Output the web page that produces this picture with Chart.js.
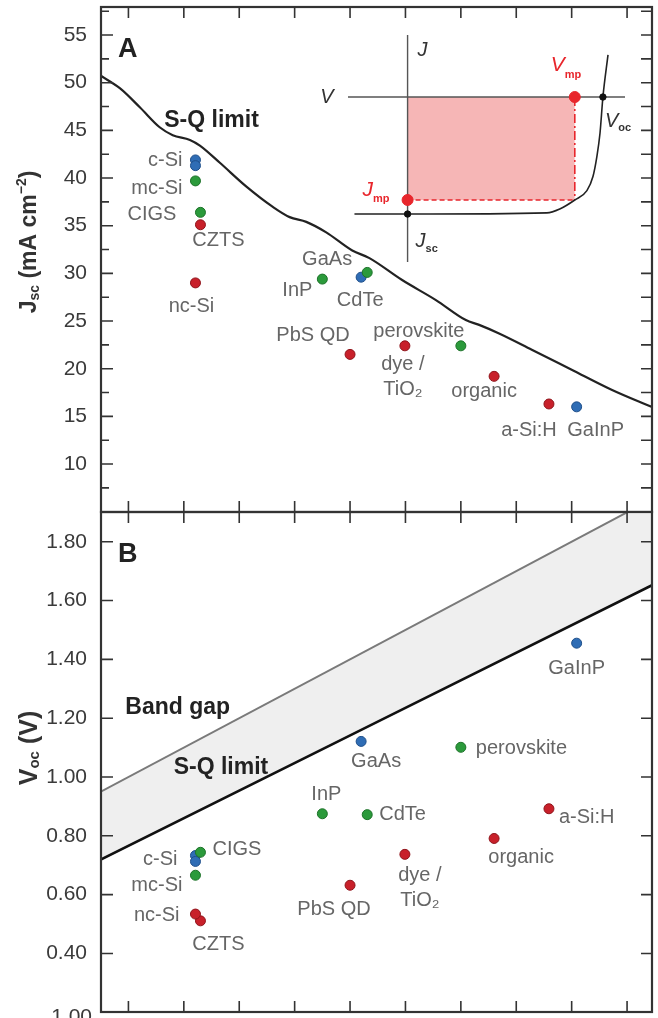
<!DOCTYPE html>
<html>
<head>
<meta charset="utf-8">
<script src="https://cdn.jsdelivr.net/npm/chart.js@4.4.1/dist/chart.umd.min.js"></script>
<style>
  html, body { margin: 0; padding: 0; background: #fff; }
  #wrap { position: relative; width: 658px; height: 1018px; overflow: hidden; }
  canvas { position: absolute; }
</style>
</head>
<body>
<div id="wrap">
  <canvas id="panelA" width="658" height="520" style="left:0;top:0"></canvas>
  <canvas id="panelB" width="658" height="513" style="left:0;top:505px"></canvas>
  <canvas id="inset" width="358" height="290" style="left:300px;top:0"></canvas>
</div>
<script>
// cells (record efficiencies), band gap in eV
const names   = ['c-Si', 'c-Si', 'mc-Si', 'CIGS', 'CZTS', 'nc-Si', 'InP', 'GaAs', 'CdTe', 'PbS QD', 'dye /\nTiO₂', 'perovskite', 'organic', 'a-Si:H', 'GaInP'];
const groups  = ['blue', 'blue', 'green', 'green', 'red', 'red', 'green', 'blue', 'green', 'red', 'red', 'green', 'red', 'red', 'blue'];
const bandGap = [1.121, 1.121, 1.121, 1.130, 1.130, 1.121, 1.350, 1.420, 1.431, 1.400, 1.499, 1.600, 1.660, 1.759, 1.809];
const jsc     = [41.9, 41.3, 39.7, 36.4, 35.1, 29.0, 29.4, 29.6, 30.1, 21.5, 22.4, 22.4, 19.2, 16.3, 16.0];
const voc     = [0.733, 0.713, 0.666, 0.744, 0.511, 0.534, 0.875, 1.121, 0.872, 0.632, 0.737, 1.101, 0.791, 0.892, 1.455];

// Shockley-Queisser limit curves
const sqEg  = [0.951, 0.985, 1.021, 1.057, 1.080, 1.111, 1.129, 1.165, 1.213, 1.260, 1.291, 1.321, 1.357, 1.404, 1.435, 1.494, 1.555, 1.609, 1.633, 1.669, 1.728, 1.800, 1.872, 1.944];
const sqJsc = [50.7, 49.4, 47.4, 45.3, 44.5, 44.0, 43.4, 41.6, 39.1, 37.0, 35.9, 35.4, 34.3, 32.4, 31.6, 29.3, 27.2, 25.1, 24.6, 23.7, 22.0, 19.9, 17.8, 16.0];
const sqVocEg = [0.951, 1.451, 1.945];
const sqVoc   = [0.720, 1.189, 1.652];
const gapEg  = [0.951, 1.945];
const gapVoc = [0.951, 1.945];

// ticks
const egTicks   = [1.0, 1.1, 1.2, 1.3, 1.4, 1.5, 1.6, 1.7, 1.8, 1.9];
const jscTicks  = [10, 15, 20, 25, 30, 35, 40, 45, 50, 55];
const jscMinor  = [7.5, 12.5, 17.5, 22.5, 27.5, 32.5, 37.5, 42.5, 47.5, 52.5, 57.5];
const vocTicks  = [0.4, 0.6, 0.8, 1.0, 1.2, 1.4, 1.6, 1.8];

// inset J-V sketch (normalised: Voc = 1, Jsc = -1)
const ivV = [-0.272, 0, 0.713, 0.779, 0.856, 0.918, 0.949, 0.969, 0.985, 1.0, 1.026];
const ivJ = [-1.0, -1.0, -0.99, -0.957, -0.88, -0.80, -0.68, -0.51, -0.31, 0, 0.36];
const vmp = 0.856, jmp = -0.88;

const FONT = "'Liberation Sans', Arial, sans-serif";
const dotFill = { blue: '#2f6db5', green: '#2b9a3b', red: '#c8202a' };
const dotEdge = { blue: '#1f4f8a', green: '#1d7229', red: '#8f141b' };

// label offsets from point (px): dx, dy, align
const labelPosA = {
  'c-Si': [-13, 1, 'right'], 'mc-Si': [-13, 8, 'right'], 'CIGS': [-24, 2, 'right'],
  'CZTS': [18, 16, 'center'], 'nc-Si': [-4, 24, 'center'], 'InP': [-10, 11, 'right'],
  'GaAs': [-34, -18, 'center'], 'CdTe': [-7, 28, 'center'], 'PbS QD': [-37, -19, 'center'],
  'perovskite': [-42, -14, 'center'], 'dye /\nTiO₂': [-2, 19, 'center'], 'organic': [-10, 15, 'center'],
  'a-Si:H': [-20, 27, 'center'], 'GaInP': [19, 24, 'center']
};
const labelPosB = {
  'GaInP': [0, 25, 'center'], 'GaAs': [15, 20, 'center'], 'perovskite': [15, 1, 'left'],
  'InP': [4, -19, 'center'], 'CdTe': [12, 0, 'left'], 'a-Si:H': [10, 9, 'left'],
  'organic': [27, 19, 'center'], 'dye /\nTiO₂': [15, 21, 'center'], 'PbS QD': [-16, 24, 'center'],
  'CIGS': [12, -3, 'left'], 'c-Si': [-18, 4, 'right'], 'mc-Si': [-13, 10, 'right'],
  'nc-Si': [-16, 1, 'right'], 'CZTS': [18, 24, 'center']
};

function drawRich(ctx, x, y, parts, align) {
  let w = 0;
  parts.forEach(p => { ctx.font = p.font; p.w = ctx.measureText(p.t).width; w += p.w; });
  let cx = align === 'center' ? x - w / 2 : align === 'right' ? x - w : x;
  ctx.textAlign = 'left';
  parts.forEach(p => {
    ctx.font = p.font;
    ctx.fillStyle = p.color || '#333';
    ctx.fillText(p.t, cx, y + (p.dy || 0));
    cx += p.w;
  });
}

// frame with inward ticks
const framePlugin = {
  id: 'frame',
  afterDatasetsDraw(chart, args, o) {
    const { ctx, chartArea: a, scales: { x, y } } = chart;
    ctx.save();
    ctx.strokeStyle = '#333';
    ctx.lineWidth = 1.6;
    ctx.beginPath();
    egTicks.forEach(v => {
      const px = x.getPixelForValue(v);
      ctx.moveTo(px, a.top); ctx.lineTo(px, a.top + 11);
      ctx.moveTo(px, a.bottom); ctx.lineTo(px, a.bottom - 11);
    });
    o.major.forEach(v => {
      const py = y.getPixelForValue(v);
      ctx.moveTo(a.left, py); ctx.lineTo(a.left + 12, py);
      ctx.moveTo(a.right, py); ctx.lineTo(a.right - 11, py);
    });
    (o.minor || []).forEach(v => {
      const py = y.getPixelForValue(v);
      if (py < a.top || py > a.bottom) return;
      ctx.moveTo(a.left, py); ctx.lineTo(a.left + 8, py);
      ctx.moveTo(a.right, py); ctx.lineTo(a.right - 11, py);
    });
    ctx.stroke();
    ctx.lineWidth = 2.2;
    ctx.strokeRect(a.left, a.top, a.right - a.left, a.bottom - a.top);
    ctx.restore();
  }
};

// point labels, notes and axis title
const textPlugin = {
  id: 'texts',
  afterDraw(chart, args, o) {
    const { ctx, chartArea: a, scales: { x, y } } = chart;
    const pts = chart.getDatasetMeta(0).data;
    ctx.save();
    ctx.textBaseline = 'middle';
    const done = {};
    names.forEach((n, i) => {
      if (done[n]) return;
      done[n] = true;
      const [dx, dy, al] = o.pos[n];
      ctx.font = '20px ' + FONT;
      ctx.fillStyle = '#666';
      ctx.textAlign = al;
      n.split('\n').forEach((line, k) => {
        ctx.fillText(line, pts[i].x + dx, pts[i].y + dy + k * 25);
      });
    });
    ctx.textBaseline = 'alphabetic';
    ctx.textAlign = 'left';
    o.notes.forEach(nt => {
      ctx.font = 'bold ' + nt.size + 'px ' + FONT;
      ctx.fillStyle = '#222';
      ctx.textAlign = nt.align || 'center';
      ctx.fillText(nt.text, x.getPixelForValue(nt.x), y.getPixelForValue(nt.y));
    });
    ctx.textAlign = 'left';
    ctx.font = 'bold 27px ' + FONT;
    ctx.fillStyle = '#222';
    ctx.fillText(o.letter, a.left + 17, a.top + 50);
    // rotated axis title
    ctx.textBaseline = 'middle';
    ctx.translate(30, o.titleY);
    ctx.rotate(-Math.PI / 2);
    drawRich(ctx, 0, 0, o.title, 'center');
    ctx.restore();
    if (o.extra) o.extra(chart);
  }
};

function yScale(min, max, ticks, fmt) {
  return {
    type: 'linear', min: min, max: max,
    grid: { display: false }, border: { display: false },
    ticks: { padding: 6, color: '#3a3a3a', font: { size: 21, family: FONT }, callback: fmt },
    afterBuildTicks: s => { s.ticks = ticks.map(v => ({ value: v })); },
    afterFit: s => { s.width = 101; s.paddingTop = 0; s.paddingBottom = 0; }
  };
}

function cellDataset(values) {
  return {
    label: 'cells',
    data: bandGap.map((e, i) => ({ x: e, y: values[i] })),
    pointRadius: 5,
    pointBorderWidth: 1,
    pointBackgroundColor: groups.map(g => dotFill[g]),
    pointBorderColor: groups.map(g => dotEdge[g])
  };
}

Chart.defaults.font.family = FONT;

new Chart(document.getElementById('panelA'), {
  type: 'scatter',
  data: {
    datasets: [
      cellDataset(jsc),
      {
        label: 'S-Q limit',
        data: sqEg.map((e, i) => ({ x: e, y: sqJsc[i] })),
        showLine: true, pointRadius: 0, borderColor: '#222', borderWidth: 2.2,
        cubicInterpolationMode: 'monotone'
      }
    ]
  },
  options: {
    responsive: false, animation: false,
    layout: { padding: { top: 7, right: 4, bottom: 8, left: 0 } },
    plugins: {
      legend: { display: false }, tooltip: { enabled: false },
      frame: { major: jscTicks, minor: jscMinor },
      texts: {
        pos: labelPosA, letter: 'A', titleY: 242,
        notes: [{ text: 'S-Q limit', x: 1.150, y: 45.4, size: 23 }],
        title: [
          { t: 'J', font: 'bold 23px ' + FONT },
          { t: 'sc', font: 'bold 14px ' + FONT, dy: 5 },
          { t: ' (mA cm', font: 'bold 23px ' + FONT },
          { t: '−2', font: 'bold 14px ' + FONT, dy: -8 },
          { t: ')', font: 'bold 23px ' + FONT }
        ]
      }
    },
    scales: {
      x: { type: 'linear', display: false, min: 0.9505, max: 1.945 },
      y: yScale(4.97, 57.94, jscTicks, v => v)
    }
  },
  plugins: [framePlugin, textPlugin]
});

new Chart(document.getElementById('panelB'), {
  type: 'scatter',
  data: {
    datasets: [
      cellDataset(voc),
      {
        label: 'Band gap',
        data: gapEg.map((e, i) => ({ x: e, y: gapVoc[i] })),
        showLine: true, pointRadius: 0, borderColor: '#7a7a7a', borderWidth: 2,
        fill: '+1', backgroundColor: '#efefef'
      },
      {
        label: 'S-Q limit',
        data: sqVocEg.map((e, i) => ({ x: e, y: sqVoc[i] })),
        showLine: true, pointRadius: 0, borderColor: '#111', borderWidth: 2.6
      }
    ]
  },
  options: {
    responsive: false, animation: false,
    layout: { padding: { top: 7, right: 4, bottom: 2, left: 0 } },
    plugins: {
      legend: { display: false }, tooltip: { enabled: false },
      filler: { drawTime: 'beforeDatasetsDraw' },
      frame: { major: vocTicks },
      texts: {
        pos: labelPosB, letter: 'B', titleY: 243,
        notes: [
          { text: 'Band gap', x: 1.089, y: 1.214, size: 23 },
          { text: 'S-Q limit', x: 1.167, y: 1.009, size: 23 }
        ],
        title: [
          { t: 'V', font: 'bold 25px ' + FONT },
          { t: 'oc', font: 'bold 15px ' + FONT, dy: 5 },
          { t: ' (V)', font: 'bold 25px ' + FONT }
        ],
        extra: chart => {
          // top of the next panel's tick label, cut by the frame edge
          const { ctx, chartArea: a } = chart;
          ctx.save();
          ctx.font = '21px ' + FONT;
          ctx.fillStyle = '#3a3a3a';
          ctx.textAlign = 'right';
          ctx.fillText('1.00', a.left - 9, a.bottom + 11);
          ctx.restore();
        }
      }
    },
    scales: {
      x: { type: 'linear', display: false, min: 0.9505, max: 1.945 },
      y: yScale(0.201, 1.901, vocTicks, v => v.toFixed(2))
    }
  },
  plugins: [framePlugin, textPlugin]
});

// inset: J-V curve with maximum power rectangle
const insetLabels = {
  id: 'insetLabels',
  afterDraw(chart) {
    const { ctx, scales: { x, y } } = chart;
    const it = (sz) => 'italic ' + sz + 'px ' + FONT;
    const sub = 'bold 11px ' + FONT;
    const at = (v, j) => [x.getPixelForValue(v), y.getPixelForValue(j)];
    ctx.save();
    ctx.textBaseline = 'middle';
    let p = at(0, 0.40);
    drawRich(ctx, p[0] + 10, p[1], [{ t: 'J', font: it(20), color: '#333' }], 'left');
    p = at(x.min, 0);
    drawRich(ctx, p[0] - 21, p[1], [{ t: 'V', font: it(20), color: '#333' }], 'center');
    p = at(vmp, 0);
    drawRich(ctx, p[0] - 24, p[1] - 32, [{ t: 'V', font: it(21), color: '#e8262c' }, { t: 'mp', font: sub, color: '#e8262c', dy: 10 }], 'left');
    p = at(1, 0);
    drawRich(ctx, p[0] + 2, p[1] + 24, [{ t: 'V', font: it(20), color: '#333' }, { t: 'oc', font: sub, color: '#333', dy: 7 }], 'left');
    p = at(0, jmp);
    drawRich(ctx, p[0] - 45, p[1] - 10, [{ t: 'J', font: it(21), color: '#e8262c' }, { t: 'mp', font: sub, color: '#e8262c', dy: 9 }], 'left');
    p = at(0, -1);
    drawRich(ctx, p[0] + 8, p[1] + 27, [{ t: 'J', font: it(20), color: '#333' }, { t: 'sc', font: sub, color: '#333', dy: 8 }], 'left');
    ctx.restore();
  }
};

const red = '#e8262c';
new Chart(document.getElementById('inset'), {
  type: 'scatter',
  data: {
    datasets: [
      { label: 'Vmp', data: [{ x: vmp, y: 0 }, { x: 0, y: jmp }], pointRadius: 5.5, pointBackgroundColor: red, pointBorderColor: red },
      { label: 'Voc Jsc', data: [{ x: 1, y: 0 }, { x: 0, y: -1 }], pointRadius: 3.2, pointBackgroundColor: '#111', pointBorderColor: '#111' },
      { label: 'J-V', data: ivV.map((v, i) => ({ x: v, y: ivJ[i] })), showLine: true, pointRadius: 0, borderColor: '#222', borderWidth: 1.6, cubicInterpolationMode: 'monotone' },
      { label: 'Jmp line', data: [{ x: 0, y: jmp }, { x: vmp, y: jmp }], showLine: true, pointRadius: 0, borderColor: red, borderWidth: 1.6, borderDash: [5, 3] },
      { label: 'Vmp line', data: [{ x: vmp, y: 0 }, { x: vmp, y: jmp }], showLine: true, pointRadius: 0, borderColor: red, borderWidth: 1.6, borderDash: [9, 3, 2, 3] },
      { label: 'V axis', data: [{ x: -0.305, y: 0 }, { x: 1.113, y: 0 }], showLine: true, pointRadius: 0, borderColor: '#555', borderWidth: 1.4 },
      { label: 'J axis', data: [{ x: 0, y: 0.53 }, { x: 0, y: -1.41 }], showLine: true, pointRadius: 0, borderColor: '#555', borderWidth: 1.4 },
      { label: 'power', data: [{ x: 0, y: jmp }, { x: vmp, y: jmp }], showLine: true, pointRadius: 0, borderWidth: 0, borderColor: 'rgba(0,0,0,0)', fill: 'origin', backgroundColor: '#f6b6b6' }
    ]
  },
  options: {
    responsive: false, animation: false,
    layout: { padding: { top: 35, right: 33, bottom: 28, left: 48 } },
    plugins: { legend: { display: false }, tooltip: { enabled: false } },
    scales: {
      x: { type: 'linear', display: false, min: -0.305, max: 1.113 },
      y: { type: 'linear', display: false, min: -1.41, max: 0.53 }
    }
  },
  plugins: [insetLabels]
});
</script>
</body>
</html>
